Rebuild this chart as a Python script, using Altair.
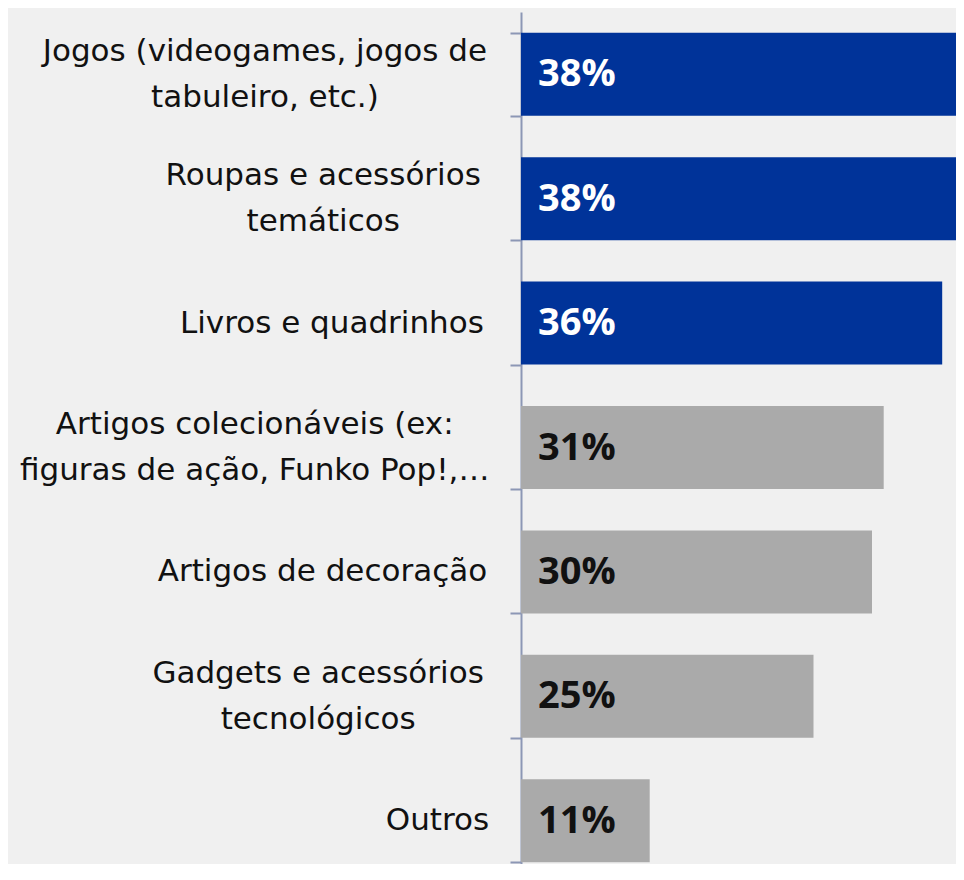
import altair as alt
import pandas as pd

categories = [
    "Jogos (videogames, jogos de|tabuleiro, etc.)",
    "Roupas e acessórios|temáticos",
    "Livros e quadrinhos",
    "Artigos colecionáveis (ex:|figuras de ação, Funko Pop!,…",
    "Artigos de decoração",
    "Gadgets e acessórios|tecnológicos",
    "Outros",
]
values = [38, 38, 36, 31, 30, 25, 11]
highlight = ["top", "top", "top", "other", "other", "other", "other"]

df = pd.DataFrame({"category": categories, "value": values, "group": highlight})

LABEL_FONT = "DejaVu Sans"
VALUE_FONT = "Open Sans"
FS = 31
WIDE = round(0.61 * FS, 2)    # approx. width of a regular glyph
NARROW = round(0.33 * FS, 2)  # approx. width of a narrow glyph

lines = "split(datum.label,'|')"


def est_width(s):
    narrow = f"(length({s}) - length(replace({s}, regexp('[ijlftrJ.,!:() ]','g'), '')))"
    return f"({WIDE}*length({s}) - {WIDE - NARROW}*{narrow})"


pad_expr = f"25 + 0.5*max({est_width(lines + '[0]')}, {est_width('peek(' + lines + ')')})"

y_enc = alt.Y(
    "category:N",
    sort=categories,
    scale=alt.Scale(range=[0, 871], paddingInner=0.333, paddingOuter=0.1667),
    axis=alt.Axis(
        title=None,
        labelExpr="split(datum.label, '|')",
        labelAlign="center",
        labelBaseline="middle",
        labelPadding=alt.ExprRef(expr=pad_expr),
        labelOffset=alt.ExprRef(expr=f"-23*(length({lines})-1)"),
        labelFont=LABEL_FONT,
        labelFontSize=FS,
        labelColor="#111111",
        labelLineHeight=46,
        labelLimit=0,
        tickBand="extent",
        tickSize=11,
        tickWidth=2,
        tickColor="#8c97b5",
        domainColor="#8c97b5",
        domainWidth=2,
    ),
)

x_scale = alt.Scale(domain=[0, 38], range=[0, 444.6])

bars = alt.Chart(df).mark_bar().encode(
    y=y_enc,
    x=alt.X("value:Q", scale=x_scale, axis=None),
    color=alt.Color(
        "group:N",
        scale=alt.Scale(domain=["top", "other"], range=["#003399", "#aaaaaa"]),
        legend=None,
    ),
)

labels = alt.Chart(df).transform_calculate(
    txt="datum.value + '%'"
).mark_text(
    align="left", baseline="middle", dx=17, dy=1, font=VALUE_FONT, fontSize=38, fontWeight="bold"
).encode(
    y=alt.Y("category:N", sort=categories),
    x=alt.datum(0, scale=x_scale),
    text="txt:N",
    color=alt.Color(
        "group:N",
        scale=alt.Scale(domain=["top", "other"], range=["#ffffff", "#111111"]),
        legend=None,
    ),
)

chart = alt.layer(bars, labels).resolve_scale(color="independent").properties(
    width=435,
    height=852,
    padding={"left": 513, "top": 4, "right": 0, "bottom": 0},
    autosize=alt.AutoSizeParams(type="none"),
    background="#f0f0f0",
).configure_view(stroke=None)

chart.save("out.html", embed_options={"renderer": "svg", "actions": False})
